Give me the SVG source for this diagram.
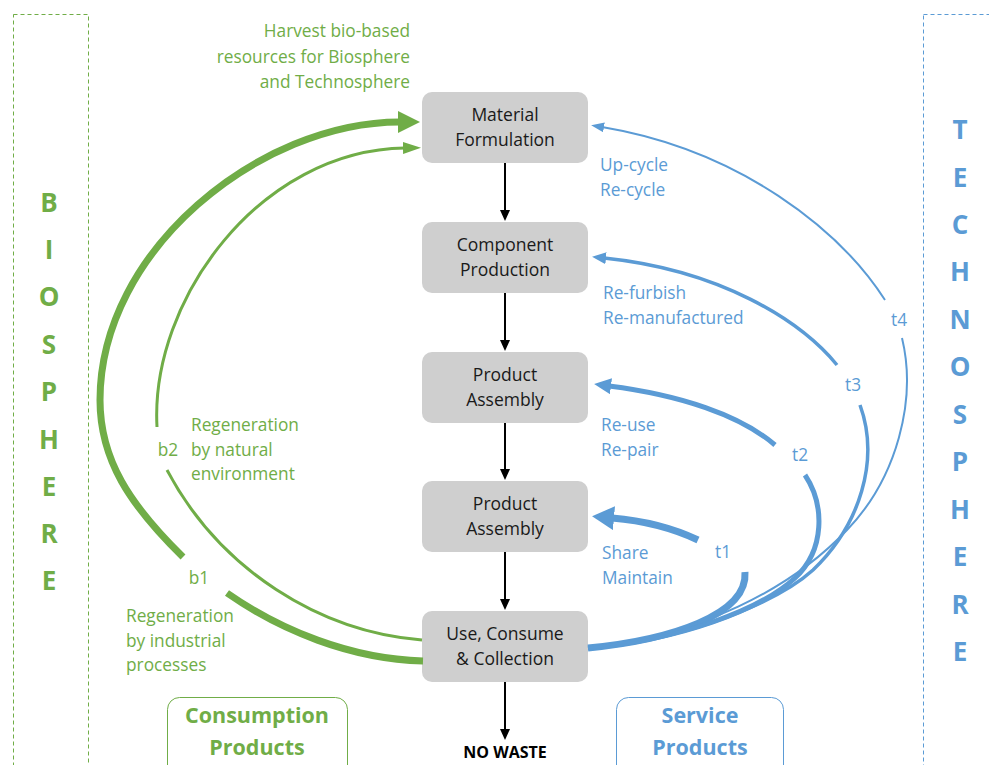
<svg xmlns="http://www.w3.org/2000/svg" width="989" height="765" viewBox="0 0 989 765">
<style>
text{font-family:"Open Sans","Liberation Sans",sans-serif}
.node rect{fill:#cfcfcf}
.nt{font-size:17.5px;fill:#1a1a1a;text-anchor:middle}
.g{fill:#70AD47}
.b{fill:#5B9BD5}
.lbl{font-size:17.3px}
.big{font-size:26px;font-weight:bold;text-anchor:middle}
.cat{font-size:21.5px;font-weight:bold;text-anchor:middle}
.gs{fill:none;stroke:#70AD47}
.bs{fill:none;stroke:#5B9BD5}
.k{stroke:#000;stroke-width:2;fill:none}
</style>
<defs>
<marker id="gBig" markerUnits="userSpaceOnUse" markerWidth="22" markerHeight="22" refX="2" refY="11" orient="auto"><path d="M0,0 L22,11 L0,22 z" fill="#70AD47"/></marker>
<marker id="gSm" markerUnits="userSpaceOnUse" markerWidth="18" markerHeight="12" refX="2" refY="6" orient="auto"><path d="M0,0 L18,6 L0,12 z" fill="#70AD47"/></marker>
<marker id="b1" markerUnits="userSpaceOnUse" markerWidth="22" markerHeight="24" refX="2" refY="12" orient="auto"><path d="M0,0 L22,12 L0,24 z" fill="#5B9BD5"/></marker>
<marker id="b2" markerUnits="userSpaceOnUse" markerWidth="17" markerHeight="16" refX="2" refY="8" orient="auto"><path d="M0,0 L17,8 L0,16 z" fill="#5B9BD5"/></marker>
<marker id="b3" markerUnits="userSpaceOnUse" markerWidth="14" markerHeight="12" refX="2" refY="6" orient="auto"><path d="M0,0 L14,6 L0,12 z" fill="#5B9BD5"/></marker>
<marker id="b4" markerUnits="userSpaceOnUse" markerWidth="13" markerHeight="10" refX="2" refY="5" orient="auto"><path d="M0,0 L13,5 L0,10 z" fill="#5B9BD5"/></marker>
<marker id="k" markerUnits="userSpaceOnUse" markerWidth="11" markerHeight="10" refX="1" refY="5" orient="auto"><path d="M0,0 L11,5 L0,10 z" fill="#000"/></marker>
</defs>
<rect width="989" height="765" fill="#fff"/>

<g id="biosphere">
<rect x="13.5" y="14.5" width="75" height="770" fill="none" stroke="#70AD47" stroke-width="1" stroke-dasharray="4,3"/>
<text class="big g" x="49" y="212">B</text>
<text class="big g" x="49" y="259">I</text>
<text class="big g" x="49" y="306">O</text>
<text class="big g" x="49" y="354">S</text>
<text class="big g" x="49" y="401">P</text>
<text class="big g" x="49" y="449">H</text>
<text class="big g" x="49" y="496">E</text>
<text class="big g" x="49" y="543">R</text>
<text class="big g" x="49" y="590">E</text>
</g>

<g id="technosphere">
<rect x="923.5" y="14.5" width="90" height="770" fill="none" stroke="#5B9BD5" stroke-width="1" stroke-dasharray="4,3"/>
<text class="big b" x="960" y="139">T</text>
<text class="big b" x="960" y="187">E</text>
<text class="big b" x="960" y="234">C</text>
<text class="big b" x="960" y="281">H</text>
<text class="big b" x="960" y="329">N</text>
<text class="big b" x="960" y="376">O</text>
<text class="big b" x="960" y="424">S</text>
<text class="big b" x="960" y="471">P</text>
<text class="big b" x="960" y="519">H</text>
<text class="big b" x="960" y="566">E</text>
<text class="big b" x="960" y="614">R</text>
<text class="big b" x="960" y="661">E</text>
</g>

<g id="n-material" class="node"><rect x="422" y="92" width="166" height="71" rx="10"/><text class="nt" x="505" y="121">Material</text><text class="nt" x="505" y="146">Formulation</text></g>
<g id="n-component" class="node"><rect x="422" y="222" width="166" height="71" rx="10"/><text class="nt" x="505" y="251">Component</text><text class="nt" x="505" y="276">Production</text></g>
<g id="n-assembly1" class="node"><rect x="422" y="352" width="166" height="71" rx="10"/><text class="nt" x="505" y="381">Product</text><text class="nt" x="505" y="406">Assembly</text></g>
<g id="n-assembly2" class="node"><rect x="422" y="481" width="166" height="71" rx="10"/><text class="nt" x="505" y="510">Product</text><text class="nt" x="505" y="535">Assembly</text></g>
<g id="n-use" class="node"><rect x="422" y="611" width="166" height="71" rx="10"/><text class="nt" x="505" y="640">Use, Consume</text><text class="nt" x="505" y="665">&amp; Collection</text></g>
<g id="n-nowaste"><text x="505" y="758" font-size="16" font-weight="bold" text-anchor="middle" fill="#000">NO WASTE</text></g>

<g id="consumption">
<rect x="167.5" y="697.5" width="180" height="90" rx="12" fill="none" stroke="#70AD47" stroke-width="1"/>
<text class="cat g" x="257" y="723">Consumption</text>
<text class="cat g" x="257" y="755">Products</text>
</g>
<g id="service">
<rect x="616.5" y="697.5" width="167" height="90" rx="12" fill="none" stroke="#5B9BD5" stroke-width="1"/>
<text class="cat b" x="700" y="723">Service</text>
<text class="cat b" x="700" y="755">Products</text>
</g>

<g id="connectors">
<path class="k" d="M505,163 V211" marker-end="url(#k)"/>
<path class="k" d="M505,293 V341" marker-end="url(#k)"/>
<path class="k" d="M505,423 V470" marker-end="url(#k)"/>
<path class="k" d="M505,552 V600" marker-end="url(#k)"/>
<path class="k" d="M505,682 V730" marker-end="url(#k)"/>

<path class="gs" stroke-width="7" d="M423,661 C350,659 280,630 227,593"/>
<path class="gs" stroke-width="7" d="M183,557 C130,505 100,460 100,400 C100,250 260,122 400,122" marker-end="url(#gBig)"/>
<path class="gs" stroke-width="3" d="M422,640 C320,632 220,570 167,470"/>
<path class="gs" stroke-width="3" d="M157,427 C150,300 260,150 405,148" marker-end="url(#gSm)"/>

<path class="bs" stroke-width="7" d="M588,648 C670,640 748,615 745,572"/>
<path class="bs" stroke-width="7" d="M698,540 Q660,522 612,518" marker-end="url(#b1)"/>
<path class="bs" stroke-width="5" d="M588,648 C680,640 760,610 795,578 C825,550 825,505 805,475"/>
<path class="bs" stroke-width="5" d="M775,445 C740,415 680,395 609,386" marker-end="url(#b2)"/>
<path class="bs" stroke-width="3.5" d="M588,648 C690,640 780,600 813,570 C860,525 880,460 860,405"/>
<path class="bs" stroke-width="3.5" d="M837,365 C800,320 720,270 604,258" marker-end="url(#b3)"/>
<path class="bs" stroke-width="2" d="M588,648 C700,635 790,590 847,530 C897,478 917,400 902,338"/>
<path class="bs" stroke-width="2" d="M885,300 C840,230 740,150 602,127" marker-end="url(#b4)"/>
</g>

<g id="labels">
<text class="lbl g" text-anchor="end" x="410" y="37">Harvest bio-based</text>
<text class="lbl g" text-anchor="end" x="410" y="63">resources for Biosphere</text>
<text class="lbl g" text-anchor="end" x="410" y="88">and Technosphere</text>
<text class="lbl g" x="191" y="431">Regeneration</text>
<text class="lbl g" x="191" y="456">by natural</text>
<text class="lbl g" x="191" y="480">environment</text>
<text class="lbl g" x="126" y="622">Regeneration</text>
<text class="lbl g" x="126" y="647">by industrial</text>
<text class="lbl g" x="126" y="671">processes</text>
<text class="lbl g" text-anchor="middle" x="168" y="456">b2</text>
<text class="lbl g" text-anchor="middle" x="199" y="584">b1</text>
<text class="lbl b" x="600" y="171">Up-cycle</text>
<text class="lbl b" x="600" y="196">Re-cycle</text>
<text class="lbl b" x="603" y="299">Re-furbish</text>
<text class="lbl b" x="603" y="324">Re-manufactured</text>
<text class="lbl b" x="601" y="431">Re-use</text>
<text class="lbl b" x="601" y="456">Re-pair</text>
<text class="lbl b" x="602" y="559">Share</text>
<text class="lbl b" x="602" y="584">Maintain</text>
<text class="lbl b" text-anchor="middle" x="723" y="558">t1</text>
<text class="lbl b" text-anchor="middle" x="800" y="461">t2</text>
<text class="lbl b" text-anchor="middle" x="853" y="391">t3</text>
<text class="lbl b" text-anchor="middle" x="899" y="326">t4</text>
</g>
</svg>
